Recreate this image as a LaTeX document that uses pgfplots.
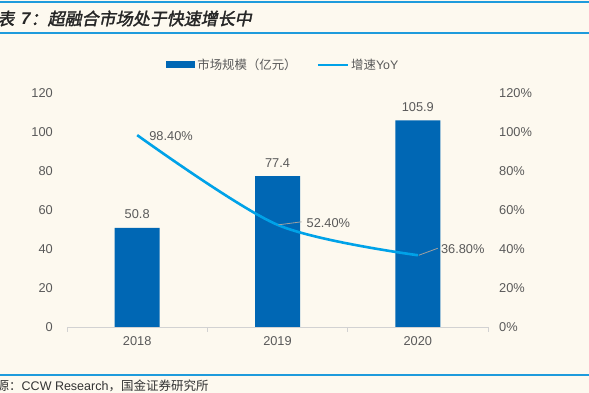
\documentclass[border=0pt]{standalone}
\usepackage{pgfplots}
\pgfplotsset{compat=1.18}
\usepackage{fontspec}
\setmainfont{Liberation Sans}
\newfontfamily\cjk{Noto Sans CJK SC}
\newfontfamily\cjkt{Noto Sans CJK SC}[FakeSlant=0.2,FakeBold=2]
\definecolor{bg}{RGB}{253,249,239}
\definecolor{barblue}{RGB}{0,103,180}
\definecolor{lineblue}{RGB}{0,162,232}
\definecolor{txt}{RGB}{89,89,89}
\definecolor{rulec}{RGB}{30,155,220}
\definecolor{axgray}{RGB}{210,210,210}
\definecolor{leader}{RGB}{160,160,160}
\begin{document}
\begin{tikzpicture}[x=1pt,y=1pt]
\useasboundingbox (0,0) rectangle (589,393);
\clip (0,0) rectangle (589,393);
\fill[bg] (0,0) rectangle (589,393);
\draw[rulec, line width=1.3pt] (0,391) -- (589,391);
\draw[rulec, line width=1.3pt] (0,360) -- (589,360);
\draw[rulec, line width=1.3pt] (0,18) -- (589,18);
\node[anchor=west, inner sep=0, text=black!85] at (-20,374.5) {\fontsize{17}{17}\selectfont{\cjkt 图表}\hspace{7pt}{\bfseries\itshape 7}{\cjkt ：超融合市场处于快速增长中}};
\node[anchor=west, inner sep=0, text=black!80] at (-16,7) {\fontsize{12.5}{13}\selectfont{\cjk 来源：}CCW Research{\cjk ，国金证券研究所}};
\begin{axis}[
  at={(67pt,66pt)}, anchor=south west, scale only axis,
  width=421pt, height=234pt,
  xmin=-0.5, xmax=2.5, ymin=0, ymax=120,
  axis x line*=bottom, axis y line*=left,
  y axis line style={draw=none},
  x axis line style={axgray, line width=0.8pt},
  xtick={0,1,2}, xticklabels={2018,2019,2020},
  minor xtick={-0.5,0.5,1.5,2.5},
  major tick length=0pt, minor tick length=5pt,
  tick align=outside,
  minor tick style={axgray, line width=0.8pt},
  ytick={0,20,...,120},
  /pgf/number format/assume math mode=true,
  tick label style={font=\fontsize{12.8}{13}\selectfont, text=txt},
  yticklabel style={xshift=-10.7pt},
  xticklabel style={yshift=-6pt},
  legend style={at={(0.514,1.12)}, anchor=center, draw=none, fill=none,
    legend columns=2, font=\fontsize{12.4}{13}\selectfont, text=txt,
    /tikz/every even column/.append style={column sep=18pt}},
]
\addplot[ybar, bar width=45pt, fill=barblue, draw=none,
  legend image code/.code={\fill[barblue] (0pt,-3.5pt) rectangle (29pt,3.5pt);}]
  coordinates {(0,50.8) (1,77.4) (2,105.9)};
\addlegendentry{{\cjk 市场规模（亿元）}}
\addlegendimage{legend image code/.code={\draw[lineblue, line width=2.6pt] (0pt,0pt) -- (30pt,0pt);}}
\addlegendentry{{\cjk 增速}YoY}
\node[anchor=base, inner sep=0, text=txt, font=\fontsize{12.8}{13}\selectfont, yshift=9pt] at (axis cs:0,50.8) {50.8};
\node[anchor=base, inner sep=0, text=txt, font=\fontsize{12.8}{13}\selectfont, yshift=9pt] at (axis cs:1,77.4) {77.4};
\node[anchor=base, inner sep=0, text=txt, font=\fontsize{12.8}{13}\selectfont, yshift=9pt] at (axis cs:2,105.9) {105.9};
\end{axis}
\begin{axis}[
  at={(67pt,66pt)}, anchor=south west, scale only axis,
  width=421pt, height=234pt,
  xmin=-0.5, xmax=2.5, ymin=0, ymax=120,
  axis x line=none, axis y line*=right,
  y axis line style={draw=none},
  major tick length=0pt,
  ytick={0,20,...,120},
  /pgf/number format/assume math mode=true,
  yticklabel={\pgfmathprintnumber{\tick}\%},
  tick label style={font=\fontsize{12.8}{13}\selectfont, text=txt},
  yticklabel style={xshift=7.7pt},
]
\addplot[lineblue, line width=2.6pt, smooth] coordinates {(0,98.4) (1,52.4) (2,36.8)};
\draw[leader, line width=0.8pt] (axis cs:1,52.4) ++(1pt,0pt) -- ++(23pt,3pt);
\draw[leader, line width=0.8pt] (axis cs:2,36.8) ++(1pt,0pt) -- ++(19pt,7pt);
\node[anchor=west, inner sep=0, text=txt, font=\fontsize{12.8}{13}\selectfont, xshift=12pt, yshift=-1pt] at (axis cs:0,98.4) {98.40\%};
\node[anchor=west, inner sep=0, text=txt, font=\fontsize{12.8}{13}\selectfont, xshift=29pt, yshift=1.4pt] at (axis cs:1,52.4) {52.40\%};
\node[anchor=west, inner sep=0, text=txt, font=\fontsize{12.8}{13}\selectfont, xshift=23pt, yshift=6pt] at (axis cs:2,36.8) {36.80\%};
\end{axis}
\end{tikzpicture}
\end{document}
